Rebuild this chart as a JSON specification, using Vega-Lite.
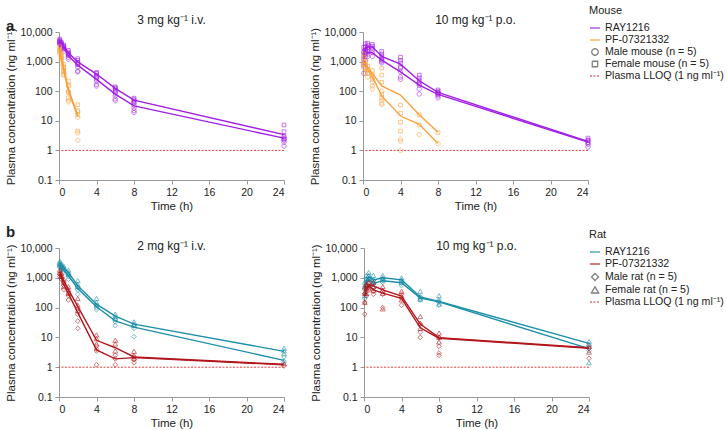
{
  "$schema": "https://vega.github.io/schema/vega-lite/v6.json",
  "config": {
    "font": "Liberation Sans",
    "view": {"stroke": null},
    "axis": {"domainColor": "#999", "tickColor": "#999", "labelColor": "#222", "titleColor": "#222", "labelFontSize": 10.5, "titleFontSize": 11.5, "titleFontWeight": "normal", "grid": false, "tickSize": 4, "labelPadding": 3, "titlePadding": 3},
    "title": {"fontSize": 12, "fontWeight": "normal", "offset": 0, "color": "#222"},
    "legend": {"labelFontSize": 10.6, "titleFontSize": 11, "titleFontWeight": "normal", "symbolSize": 100, "symbolStrokeWidth": 1.3, "rowPadding": 0, "padding": 0, "titlePadding": 6, "labelOffset": 4, "labelColor": "#222", "titleColor": "#222"},
    "concat": {"spacing": 21}
  },
  "datasets": {
    "mm": [
      {"d":"i","c":"R","s":"F","t":0.083,"v":5000},{"d":"i","c":"R","s":"F","t":0.25,"v":4000},{"d":"i","c":"R","s":"F","t":0.5,"v":3300},{"d":"i","c":"R","s":"F","t":1,"v":2000},{"d":"i","c":"R","s":"F","t":2,"v":980},{"d":"i","c":"R","s":"F","t":4,"v":380},{"d":"i","c":"R","s":"F","t":6,"v":125},{"d":"i","c":"R","s":"F","t":8,"v":50},{"d":"i","c":"R","s":"F","t":24,"v":3.4},
      {"d":"i","c":"R","s":"M","t":0.083,"v":4300},{"d":"i","c":"R","s":"M","t":0.25,"v":3600},{"d":"i","c":"R","s":"M","t":0.5,"v":2900},{"d":"i","c":"R","s":"M","t":1,"v":1600},{"d":"i","c":"R","s":"M","t":2,"v":760},{"d":"i","c":"R","s":"M","t":4,"v":250},{"d":"i","c":"R","s":"M","t":6,"v":80},{"d":"i","c":"R","s":"M","t":8,"v":32},{"d":"i","c":"R","s":"M","t":24,"v":2.6},
      {"d":"i","c":"P","s":"F","t":0.083,"v":2600},{"d":"i","c":"P","s":"F","t":0.25,"v":1500},{"d":"i","c":"P","s":"F","t":0.5,"v":650},{"d":"i","c":"P","s":"F","t":1,"v":120},{"d":"i","c":"P","s":"F","t":2,"v":15},
      {"d":"i","c":"P","s":"M","t":0.083,"v":2200},{"d":"i","c":"P","s":"M","t":0.25,"v":1200},{"d":"i","c":"P","s":"M","t":0.5,"v":500},{"d":"i","c":"P","s":"M","t":1,"v":100},{"d":"i","c":"P","s":"M","t":2,"v":14},
      {"d":"o","c":"R","s":"F","t":0.083,"v":1800},{"d":"o","c":"R","s":"F","t":0.25,"v":2800},{"d":"o","c":"R","s":"F","t":0.5,"v":3100},{"d":"o","c":"R","s":"F","t":1,"v":3200},{"d":"o","c":"R","s":"F","t":2,"v":1500},{"d":"o","c":"R","s":"F","t":4,"v":820},{"d":"o","c":"R","s":"F","t":6,"v":225},{"d":"o","c":"R","s":"F","t":8,"v":91},{"d":"o","c":"R","s":"F","t":24,"v":2.0},
      {"d":"o","c":"R","s":"M","t":0.083,"v":1300},{"d":"o","c":"R","s":"M","t":0.25,"v":1900},{"d":"o","c":"R","s":"M","t":0.5,"v":2000},{"d":"o","c":"R","s":"M","t":1,"v":2000},{"d":"o","c":"R","s":"M","t":2,"v":1120},{"d":"o","c":"R","s":"M","t":4,"v":450},{"d":"o","c":"R","s":"M","t":6,"v":160},{"d":"o","c":"R","s":"M","t":8,"v":78},{"d":"o","c":"R","s":"M","t":24,"v":1.9},
      {"d":"o","c":"P","s":"F","t":0.083,"v":1100},{"d":"o","c":"P","s":"F","t":0.25,"v":900},{"d":"o","c":"P","s":"F","t":0.5,"v":650},{"d":"o","c":"P","s":"F","t":1,"v":400},{"d":"o","c":"P","s":"F","t":2,"v":150},{"d":"o","c":"P","s":"F","t":4,"v":74},{"d":"o","c":"P","s":"F","t":6,"v":16},{"d":"o","c":"P","s":"F","t":8,"v":4.1},
      {"d":"o","c":"P","s":"M","t":0.083,"v":1000},{"d":"o","c":"P","s":"M","t":0.25,"v":800},{"d":"o","c":"P","s":"M","t":0.5,"v":550},{"d":"o","c":"P","s":"M","t":1,"v":310},{"d":"o","c":"P","s":"M","t":2,"v":69},{"d":"o","c":"P","s":"M","t":4,"v":14.5},{"d":"o","c":"P","s":"M","t":6,"v":7.6},{"d":"o","c":"P","s":"M","t":8,"v":1.7}
    ],
    "mi": [
      {"d":"i","c":"R","s":"F","t":0.083,"v":5800},{"d":"i","c":"R","s":"F","t":0.083,"v":5200},{"d":"i","c":"R","s":"F","t":0.083,"v":4900},{"d":"i","c":"R","s":"F","t":0.083,"v":4600},
      {"d":"i","c":"R","s":"F","t":0.25,"v":4500},{"d":"i","c":"R","s":"F","t":0.25,"v":4100},{"d":"i","c":"R","s":"F","t":0.25,"v":3800},{"d":"i","c":"R","s":"F","t":0.25,"v":3500},
      {"d":"i","c":"R","s":"F","t":0.5,"v":3600},{"d":"i","c":"R","s":"F","t":0.5,"v":3300},{"d":"i","c":"R","s":"F","t":0.5,"v":3000},{"d":"i","c":"R","s":"F","t":0.5,"v":2800},
      {"d":"i","c":"R","s":"F","t":1,"v":2400},{"d":"i","c":"R","s":"F","t":1,"v":2100},{"d":"i","c":"R","s":"F","t":1,"v":1900},{"d":"i","c":"R","s":"F","t":1,"v":1700},
      {"d":"i","c":"R","s":"F","t":2,"v":1250},{"d":"i","c":"R","s":"F","t":2,"v":1100},{"d":"i","c":"R","s":"F","t":2,"v":950},{"d":"i","c":"R","s":"F","t":2,"v":800},
      {"d":"i","c":"R","s":"F","t":4,"v":430},{"d":"i","c":"R","s":"F","t":4,"v":400},{"d":"i","c":"R","s":"F","t":4,"v":350},{"d":"i","c":"R","s":"F","t":4,"v":300},
      {"d":"i","c":"R","s":"F","t":6,"v":140},{"d":"i","c":"R","s":"F","t":6,"v":130},{"d":"i","c":"R","s":"F","t":6,"v":120},{"d":"i","c":"R","s":"F","t":6,"v":105},
      {"d":"i","c":"R","s":"F","t":8,"v":58},{"d":"i","c":"R","s":"F","t":8,"v":52},{"d":"i","c":"R","s":"F","t":8,"v":47},{"d":"i","c":"R","s":"F","t":8,"v":42},
      {"d":"i","c":"R","s":"F","t":24,"v":7.2},{"d":"i","c":"R","s":"F","t":24,"v":4.3},{"d":"i","c":"R","s":"F","t":24,"v":3.0},{"d":"i","c":"R","s":"F","t":24,"v":2.4},
      {"d":"i","c":"R","s":"M","t":0.083,"v":4600},{"d":"i","c":"R","s":"M","t":0.083,"v":4300},{"d":"i","c":"R","s":"M","t":0.083,"v":4000},{"d":"i","c":"R","s":"M","t":0.083,"v":3800},
      {"d":"i","c":"R","s":"M","t":0.25,"v":3900},{"d":"i","c":"R","s":"M","t":0.25,"v":3600},{"d":"i","c":"R","s":"M","t":0.25,"v":3300},{"d":"i","c":"R","s":"M","t":0.25,"v":3000},
      {"d":"i","c":"R","s":"M","t":0.5,"v":3200},{"d":"i","c":"R","s":"M","t":0.5,"v":2900},{"d":"i","c":"R","s":"M","t":0.5,"v":2600},{"d":"i","c":"R","s":"M","t":0.5,"v":2200},
      {"d":"i","c":"R","s":"M","t":1,"v":1800},{"d":"i","c":"R","s":"M","t":1,"v":1600},{"d":"i","c":"R","s":"M","t":1,"v":1400},{"d":"i","c":"R","s":"M","t":1,"v":1200},
      {"d":"i","c":"R","s":"M","t":2,"v":900},{"d":"i","c":"R","s":"M","t":2,"v":800},{"d":"i","c":"R","s":"M","t":2,"v":650},{"d":"i","c":"R","s":"M","t":2,"v":480},{"d":"i","c":"R","s":"M","t":2,"v":450},
      {"d":"i","c":"R","s":"M","t":4,"v":300},{"d":"i","c":"R","s":"M","t":4,"v":260},{"d":"i","c":"R","s":"M","t":4,"v":220},{"d":"i","c":"R","s":"M","t":4,"v":170},{"d":"i","c":"R","s":"M","t":4,"v":150},
      {"d":"i","c":"R","s":"M","t":6,"v":95},{"d":"i","c":"R","s":"M","t":6,"v":85},{"d":"i","c":"R","s":"M","t":6,"v":70},{"d":"i","c":"R","s":"M","t":6,"v":55},{"d":"i","c":"R","s":"M","t":6,"v":48},
      {"d":"i","c":"R","s":"M","t":8,"v":40},{"d":"i","c":"R","s":"M","t":8,"v":33},{"d":"i","c":"R","s":"M","t":8,"v":27},{"d":"i","c":"R","s":"M","t":8,"v":22},{"d":"i","c":"R","s":"M","t":8,"v":19},
      {"d":"i","c":"R","s":"M","t":24,"v":2.8},{"d":"i","c":"R","s":"M","t":24,"v":2.5},{"d":"i","c":"R","s":"M","t":24,"v":2.2},{"d":"i","c":"R","s":"M","t":24,"v":1.9},{"d":"i","c":"R","s":"M","t":24,"v":1.4},
      {"d":"i","c":"P","s":"F","t":0.083,"v":3200},{"d":"i","c":"P","s":"F","t":0.083,"v":2700},{"d":"i","c":"P","s":"F","t":0.083,"v":2400},
      {"d":"i","c":"P","s":"F","t":0.25,"v":1900},{"d":"i","c":"P","s":"F","t":0.25,"v":1500},{"d":"i","c":"P","s":"F","t":0.25,"v":1300},
      {"d":"i","c":"P","s":"F","t":0.5,"v":800},{"d":"i","c":"P","s":"F","t":0.5,"v":650},{"d":"i","c":"P","s":"F","t":0.5,"v":500},{"d":"i","c":"P","s":"F","t":0.5,"v":350},
      {"d":"i","c":"P","s":"F","t":1,"v":220},{"d":"i","c":"P","s":"F","t":1,"v":160},{"d":"i","c":"P","s":"F","t":1,"v":90},{"d":"i","c":"P","s":"F","t":1,"v":60},
      {"d":"i","c":"P","s":"F","t":2,"v":35},{"d":"i","c":"P","s":"F","t":2,"v":22},{"d":"i","c":"P","s":"F","t":2,"v":16},{"d":"i","c":"P","s":"F","t":2,"v":4.5},
      {"d":"i","c":"P","s":"M","t":0.083,"v":2500},{"d":"i","c":"P","s":"M","t":0.083,"v":2100},{"d":"i","c":"P","s":"M","t":0.083,"v":1800},
      {"d":"i","c":"P","s":"M","t":0.25,"v":1400},{"d":"i","c":"P","s":"M","t":0.25,"v":1100},{"d":"i","c":"P","s":"M","t":0.25,"v":900},
      {"d":"i","c":"P","s":"M","t":0.5,"v":600},{"d":"i","c":"P","s":"M","t":0.5,"v":450},{"d":"i","c":"P","s":"M","t":0.5,"v":380},
      {"d":"i","c":"P","s":"M","t":1,"v":150},{"d":"i","c":"P","s":"M","t":1,"v":100},{"d":"i","c":"P","s":"M","t":1,"v":50},{"d":"i","c":"P","s":"M","t":1,"v":44},
      {"d":"i","c":"P","s":"M","t":2,"v":20},{"d":"i","c":"P","s":"M","t":2,"v":13},{"d":"i","c":"P","s":"M","t":2,"v":3.9},{"d":"i","c":"P","s":"M","t":2,"v":2.2},
      {"d":"o","c":"R","s":"F","t":0.083,"v":3000},{"d":"o","c":"R","s":"F","t":0.083,"v":2200},{"d":"o","c":"R","s":"F","t":0.083,"v":1500},{"d":"o","c":"R","s":"F","t":0.083,"v":900},
      {"d":"o","c":"R","s":"F","t":0.25,"v":4000},{"d":"o","c":"R","s":"F","t":0.25,"v":3200},{"d":"o","c":"R","s":"F","t":0.25,"v":2500},{"d":"o","c":"R","s":"F","t":0.25,"v":1800},
      {"d":"o","c":"R","s":"F","t":0.5,"v":4200},{"d":"o","c":"R","s":"F","t":0.5,"v":3600},{"d":"o","c":"R","s":"F","t":0.5,"v":3000},{"d":"o","c":"R","s":"F","t":0.5,"v":2500},
      {"d":"o","c":"R","s":"F","t":1,"v":3800},{"d":"o","c":"R","s":"F","t":1,"v":3300},{"d":"o","c":"R","s":"F","t":1,"v":2900},
      {"d":"o","c":"R","s":"F","t":2,"v":2200},{"d":"o","c":"R","s":"F","t":2,"v":1800},{"d":"o","c":"R","s":"F","t":2,"v":1500},{"d":"o","c":"R","s":"F","t":2,"v":1200},
      {"d":"o","c":"R","s":"F","t":4,"v":1400},{"d":"o","c":"R","s":"F","t":4,"v":1100},{"d":"o","c":"R","s":"F","t":4,"v":900},{"d":"o","c":"R","s":"F","t":4,"v":650},
      {"d":"o","c":"R","s":"F","t":6,"v":350},{"d":"o","c":"R","s":"F","t":6,"v":280},{"d":"o","c":"R","s":"F","t":6,"v":230},{"d":"o","c":"R","s":"F","t":6,"v":180},
      {"d":"o","c":"R","s":"F","t":8,"v":110},{"d":"o","c":"R","s":"F","t":8,"v":100},{"d":"o","c":"R","s":"F","t":8,"v":90},{"d":"o","c":"R","s":"F","t":8,"v":80},
      {"d":"o","c":"R","s":"F","t":24,"v":2.6},{"d":"o","c":"R","s":"F","t":24,"v":2.2},{"d":"o","c":"R","s":"F","t":24,"v":1.8},
      {"d":"o","c":"R","s":"M","t":0.083,"v":2000},{"d":"o","c":"R","s":"M","t":0.083,"v":1200},{"d":"o","c":"R","s":"M","t":0.083,"v":700},{"d":"o","c":"R","s":"M","t":0.083,"v":400},
      {"d":"o","c":"R","s":"M","t":0.25,"v":2500},{"d":"o","c":"R","s":"M","t":0.25,"v":2000},{"d":"o","c":"R","s":"M","t":0.25,"v":1500},{"d":"o","c":"R","s":"M","t":0.25,"v":1100},
      {"d":"o","c":"R","s":"M","t":0.5,"v":2800},{"d":"o","c":"R","s":"M","t":0.5,"v":2200},{"d":"o","c":"R","s":"M","t":0.5,"v":1800},{"d":"o","c":"R","s":"M","t":0.5,"v":1500},
      {"d":"o","c":"R","s":"M","t":1,"v":2500},{"d":"o","c":"R","s":"M","t":1,"v":2000},{"d":"o","c":"R","s":"M","t":1,"v":1500},
      {"d":"o","c":"R","s":"M","t":2,"v":1300},{"d":"o","c":"R","s":"M","t":2,"v":1100},{"d":"o","c":"R","s":"M","t":2,"v":1000},{"d":"o","c":"R","s":"M","t":2,"v":900},
      {"d":"o","c":"R","s":"M","t":4,"v":600},{"d":"o","c":"R","s":"M","t":4,"v":450},{"d":"o","c":"R","s":"M","t":4,"v":300},{"d":"o","c":"R","s":"M","t":4,"v":250},
      {"d":"o","c":"R","s":"M","t":6,"v":200},{"d":"o","c":"R","s":"M","t":6,"v":160},{"d":"o","c":"R","s":"M","t":6,"v":120},{"d":"o","c":"R","s":"M","t":6,"v":80},
      {"d":"o","c":"R","s":"M","t":8,"v":90},{"d":"o","c":"R","s":"M","t":8,"v":80},{"d":"o","c":"R","s":"M","t":8,"v":70},{"d":"o","c":"R","s":"M","t":8,"v":60},
      {"d":"o","c":"R","s":"M","t":24,"v":2.2},{"d":"o","c":"R","s":"M","t":24,"v":1.9},{"d":"o","c":"R","s":"M","t":24,"v":1.6},{"d":"o","c":"R","s":"M","t":24,"v":1.3},
      {"d":"o","c":"P","s":"F","t":0.083,"v":1800},{"d":"o","c":"P","s":"F","t":0.083,"v":1200},{"d":"o","c":"P","s":"F","t":0.083,"v":800},
      {"d":"o","c":"P","s":"F","t":0.25,"v":1000},{"d":"o","c":"P","s":"F","t":0.25,"v":800},{"d":"o","c":"P","s":"F","t":0.25,"v":600},
      {"d":"o","c":"P","s":"F","t":0.5,"v":700},{"d":"o","c":"P","s":"F","t":0.5,"v":550},{"d":"o","c":"P","s":"F","t":0.5,"v":400},
      {"d":"o","c":"P","s":"F","t":1,"v":500},{"d":"o","c":"P","s":"F","t":1,"v":350},{"d":"o","c":"P","s":"F","t":1,"v":250},
      {"d":"o","c":"P","s":"F","t":2,"v":600},{"d":"o","c":"P","s":"F","t":2,"v":350},{"d":"o","c":"P","s":"F","t":2,"v":200},{"d":"o","c":"P","s":"F","t":2,"v":80},{"d":"o","c":"P","s":"F","t":2,"v":60},
      {"d":"o","c":"P","s":"F","t":4,"v":34},{"d":"o","c":"P","s":"F","t":4,"v":18},{"d":"o","c":"P","s":"F","t":4,"v":9},{"d":"o","c":"P","s":"F","t":4,"v":4.5},
      {"d":"o","c":"P","s":"F","t":6,"v":16},{"d":"o","c":"P","s":"F","t":6,"v":7.3},{"d":"o","c":"P","s":"F","t":8,"v":4},
      {"d":"o","c":"P","s":"M","t":0.083,"v":1400},{"d":"o","c":"P","s":"M","t":0.083,"v":900},{"d":"o","c":"P","s":"M","t":0.083,"v":600},
      {"d":"o","c":"P","s":"M","t":0.25,"v":800},{"d":"o","c":"P","s":"M","t":0.25,"v":600},{"d":"o","c":"P","s":"M","t":0.25,"v":400},
      {"d":"o","c":"P","s":"M","t":0.5,"v":500},{"d":"o","c":"P","s":"M","t":0.5,"v":400},{"d":"o","c":"P","s":"M","t":0.5,"v":300},
      {"d":"o","c":"P","s":"M","t":1,"v":300},{"d":"o","c":"P","s":"M","t":1,"v":200},{"d":"o","c":"P","s":"M","t":1,"v":150},{"d":"o","c":"P","s":"M","t":1,"v":120},
      {"d":"o","c":"P","s":"M","t":2,"v":100},{"d":"o","c":"P","s":"M","t":2,"v":50},{"d":"o","c":"P","s":"M","t":2,"v":40},{"d":"o","c":"P","s":"M","t":2,"v":35},
      {"d":"o","c":"P","s":"M","t":4,"v":2.4},{"d":"o","c":"P","s":"M","t":4,"v":2},{"d":"o","c":"P","s":"M","t":4,"v":1},
      {"d":"o","c":"P","s":"M","t":6,"v":3.4},{"d":"o","c":"P","s":"M","t":8,"v":1.7}
    ],
    "rm": [
      {"d":"i","c":"R","s":"F","t":0.083,"v":3000},{"d":"i","c":"R","s":"F","t":0.25,"v":2600},{"d":"i","c":"R","s":"F","t":0.5,"v":2200},{"d":"i","c":"R","s":"F","t":1,"v":1500},{"d":"i","c":"R","s":"F","t":2,"v":540},{"d":"i","c":"R","s":"F","t":4,"v":130},{"d":"i","c":"R","s":"F","t":6,"v":52},{"d":"i","c":"R","s":"F","t":8,"v":28},{"d":"i","c":"R","s":"F","t":24,"v":3.4},
      {"d":"i","c":"R","s":"M","t":0.083,"v":2500},{"d":"i","c":"R","s":"M","t":0.25,"v":2100},{"d":"i","c":"R","s":"M","t":0.5,"v":1800},{"d":"i","c":"R","s":"M","t":1,"v":1170},{"d":"i","c":"R","s":"M","t":2,"v":440},{"d":"i","c":"R","s":"M","t":4,"v":107},{"d":"i","c":"R","s":"M","t":6,"v":36},{"d":"i","c":"R","s":"M","t":8,"v":22},{"d":"i","c":"R","s":"M","t":24,"v":1.7},
      {"d":"i","c":"P","s":"F","t":0.083,"v":1600},{"d":"i","c":"P","s":"F","t":0.25,"v":1200},{"d":"i","c":"P","s":"F","t":0.5,"v":800},{"d":"i","c":"P","s":"F","t":1,"v":400},{"d":"i","c":"P","s":"F","t":2,"v":110},{"d":"i","c":"P","s":"F","t":4,"v":8},{"d":"i","c":"P","s":"F","t":6,"v":4.5},{"d":"i","c":"P","s":"F","t":8,"v":2.2},{"d":"i","c":"P","s":"F","t":24,"v":1.25},
      {"d":"i","c":"P","s":"M","t":0.083,"v":1300},{"d":"i","c":"P","s":"M","t":0.25,"v":1000},{"d":"i","c":"P","s":"M","t":0.5,"v":600},{"d":"i","c":"P","s":"M","t":1,"v":300},{"d":"i","c":"P","s":"M","t":2,"v":68},{"d":"i","c":"P","s":"M","t":4,"v":3.8},{"d":"i","c":"P","s":"M","t":6,"v":1.9},{"d":"i","c":"P","s":"M","t":8,"v":2.1},{"d":"i","c":"P","s":"M","t":24,"v":1.2},
      {"d":"o","c":"R","s":"F","t":0.083,"v":450},{"d":"o","c":"R","s":"F","t":0.25,"v":850},{"d":"o","c":"R","s":"F","t":0.5,"v":1100},{"d":"o","c":"R","s":"F","t":1,"v":850},{"d":"o","c":"R","s":"F","t":2,"v":1000},{"d":"o","c":"R","s":"F","t":4,"v":850},{"d":"o","c":"R","s":"F","t":6,"v":230},{"d":"o","c":"R","s":"F","t":8,"v":160},{"d":"o","c":"R","s":"F","t":24,"v":6.3},
      {"d":"o","c":"R","s":"M","t":0.083,"v":380},{"d":"o","c":"R","s":"M","t":0.25,"v":700},{"d":"o","c":"R","s":"M","t":0.5,"v":900},{"d":"o","c":"R","s":"M","t":1,"v":650},{"d":"o","c":"R","s":"M","t":2,"v":800},{"d":"o","c":"R","s":"M","t":4,"v":680},{"d":"o","c":"R","s":"M","t":6,"v":210},{"d":"o","c":"R","s":"M","t":8,"v":155},{"d":"o","c":"R","s":"M","t":24,"v":4.2},
      {"d":"o","c":"P","s":"F","t":0.083,"v":325},{"d":"o","c":"P","s":"F","t":0.25,"v":450},{"d":"o","c":"P","s":"F","t":0.5,"v":575},{"d":"o","c":"P","s":"F","t":1,"v":540},{"d":"o","c":"P","s":"F","t":2,"v":395},{"d":"o","c":"P","s":"F","t":4,"v":245},{"d":"o","c":"P","s":"F","t":6,"v":28},{"d":"o","c":"P","s":"F","t":8,"v":9.8},{"d":"o","c":"P","s":"F","t":24,"v":4.5},
      {"d":"o","c":"P","s":"M","t":0.083,"v":245},{"d":"o","c":"P","s":"M","t":0.25,"v":400},{"d":"o","c":"P","s":"M","t":0.5,"v":540},{"d":"o","c":"P","s":"M","t":1,"v":395},{"d":"o","c":"P","s":"M","t":2,"v":305},{"d":"o","c":"P","s":"M","t":4,"v":205},{"d":"o","c":"P","s":"M","t":6,"v":21},{"d":"o","c":"P","s":"M","t":8,"v":9.4},{"d":"o","c":"P","s":"M","t":24,"v":4.3}
    ],
    "ri": [
      {"d":"i","c":"R","s":"F","t":0.083,"v":3600},{"d":"i","c":"R","s":"F","t":0.083,"v":3200},{"d":"i","c":"R","s":"F","t":0.083,"v":2800},
      {"d":"i","c":"R","s":"F","t":0.25,"v":3000},{"d":"i","c":"R","s":"F","t":0.25,"v":2600},{"d":"i","c":"R","s":"F","t":0.25,"v":2300},
      {"d":"i","c":"R","s":"F","t":0.5,"v":2500},{"d":"i","c":"R","s":"F","t":0.5,"v":2200},{"d":"i","c":"R","s":"F","t":0.5,"v":2000},
      {"d":"i","c":"R","s":"F","t":1,"v":1800},{"d":"i","c":"R","s":"F","t":1,"v":1500},{"d":"i","c":"R","s":"F","t":1,"v":1300},
      {"d":"i","c":"R","s":"F","t":2,"v":800},{"d":"i","c":"R","s":"F","t":2,"v":600},{"d":"i","c":"R","s":"F","t":2,"v":500},
      {"d":"i","c":"R","s":"F","t":4,"v":200},{"d":"i","c":"R","s":"F","t":4,"v":150},{"d":"i","c":"R","s":"F","t":4,"v":120},
      {"d":"i","c":"R","s":"F","t":6,"v":60},{"d":"i","c":"R","s":"F","t":6,"v":50},{"d":"i","c":"R","s":"F","t":6,"v":42},
      {"d":"i","c":"R","s":"F","t":8,"v":33},{"d":"i","c":"R","s":"F","t":8,"v":28},{"d":"i","c":"R","s":"F","t":8,"v":25},
      {"d":"i","c":"R","s":"F","t":24,"v":4.3},{"d":"i","c":"R","s":"F","t":24,"v":3.5},{"d":"i","c":"R","s":"F","t":24,"v":2.8},
      {"d":"i","c":"R","s":"M","t":0.083,"v":2800},{"d":"i","c":"R","s":"M","t":0.083,"v":2500},{"d":"i","c":"R","s":"M","t":0.083,"v":2200},
      {"d":"i","c":"R","s":"M","t":0.25,"v":2400},{"d":"i","c":"R","s":"M","t":0.25,"v":2100},{"d":"i","c":"R","s":"M","t":0.25,"v":1900},
      {"d":"i","c":"R","s":"M","t":0.5,"v":2000},{"d":"i","c":"R","s":"M","t":0.5,"v":1700},{"d":"i","c":"R","s":"M","t":0.5,"v":1500},
      {"d":"i","c":"R","s":"M","t":1,"v":1300},{"d":"i","c":"R","s":"M","t":1,"v":1100},{"d":"i","c":"R","s":"M","t":1,"v":900},
      {"d":"i","c":"R","s":"M","t":2,"v":480},{"d":"i","c":"R","s":"M","t":2,"v":400},{"d":"i","c":"R","s":"M","t":2,"v":280},
      {"d":"i","c":"R","s":"M","t":4,"v":120},{"d":"i","c":"R","s":"M","t":4,"v":100},{"d":"i","c":"R","s":"M","t":4,"v":85},
      {"d":"i","c":"R","s":"M","t":6,"v":40},{"d":"i","c":"R","s":"M","t":6,"v":33},{"d":"i","c":"R","s":"M","t":6,"v":25},
      {"d":"i","c":"R","s":"M","t":8,"v":24},{"d":"i","c":"R","s":"M","t":8,"v":20},{"d":"i","c":"R","s":"M","t":8,"v":10.5},
      {"d":"i","c":"R","s":"M","t":24,"v":2.2},{"d":"i","c":"R","s":"M","t":24,"v":1.6},{"d":"i","c":"R","s":"M","t":24,"v":1.4},
      {"d":"i","c":"P","s":"F","t":0.083,"v":1800},{"d":"i","c":"P","s":"F","t":0.083,"v":1500},
      {"d":"i","c":"P","s":"F","t":0.25,"v":1400},{"d":"i","c":"P","s":"F","t":0.25,"v":1100},
      {"d":"i","c":"P","s":"F","t":0.5,"v":900},{"d":"i","c":"P","s":"F","t":0.5,"v":700},{"d":"i","c":"P","s":"F","t":0.5,"v":500},
      {"d":"i","c":"P","s":"F","t":1,"v":500},{"d":"i","c":"P","s":"F","t":1,"v":400},{"d":"i","c":"P","s":"F","t":1,"v":300},
      {"d":"i","c":"P","s":"F","t":2,"v":200},{"d":"i","c":"P","s":"F","t":2,"v":120},{"d":"i","c":"P","s":"F","t":2,"v":80},
      {"d":"i","c":"P","s":"F","t":4,"v":12},{"d":"i","c":"P","s":"F","t":4,"v":9},{"d":"i","c":"P","s":"F","t":4,"v":6},
      {"d":"i","c":"P","s":"F","t":6,"v":8},{"d":"i","c":"P","s":"F","t":6,"v":6},{"d":"i","c":"P","s":"F","t":6,"v":3.5},
      {"d":"i","c":"P","s":"F","t":8,"v":3.4},{"d":"i","c":"P","s":"F","t":8,"v":2.5},{"d":"i","c":"P","s":"F","t":8,"v":2},
      {"d":"i","c":"P","s":"F","t":24,"v":1.3},
      {"d":"i","c":"P","s":"M","t":0.083,"v":1300},{"d":"i","c":"P","s":"M","t":0.083,"v":1100},
      {"d":"i","c":"P","s":"M","t":0.25,"v":1100},{"d":"i","c":"P","s":"M","t":0.25,"v":900},
      {"d":"i","c":"P","s":"M","t":0.5,"v":700},{"d":"i","c":"P","s":"M","t":0.5,"v":550},{"d":"i","c":"P","s":"M","t":0.5,"v":400},
      {"d":"i","c":"P","s":"M","t":1,"v":300},{"d":"i","c":"P","s":"M","t":1,"v":250},{"d":"i","c":"P","s":"M","t":1,"v":180},
      {"d":"i","c":"P","s":"M","t":2,"v":90},{"d":"i","c":"P","s":"M","t":2,"v":60},{"d":"i","c":"P","s":"M","t":2,"v":35},{"d":"i","c":"P","s":"M","t":2,"v":20},
      {"d":"i","c":"P","s":"M","t":4,"v":5},{"d":"i","c":"P","s":"M","t":4,"v":4},{"d":"i","c":"P","s":"M","t":4,"v":3.5},{"d":"i","c":"P","s":"M","t":4,"v":1.2},
      {"d":"i","c":"P","s":"M","t":6,"v":2.5},{"d":"i","c":"P","s":"M","t":6,"v":1.9},{"d":"i","c":"P","s":"M","t":6,"v":1.2},
      {"d":"i","c":"P","s":"M","t":8,"v":2.2},{"d":"i","c":"P","s":"M","t":8,"v":1.8},{"d":"i","c":"P","s":"M","t":8,"v":1.4},
      {"d":"i","c":"P","s":"M","t":24,"v":1.1},
      {"d":"o","c":"R","s":"F","t":0.083,"v":700},{"d":"o","c":"R","s":"F","t":0.083,"v":450},{"d":"o","c":"R","s":"F","t":0.083,"v":250},
      {"d":"o","c":"R","s":"F","t":0.25,"v":1200},{"d":"o","c":"R","s":"F","t":0.25,"v":900},{"d":"o","c":"R","s":"F","t":0.25,"v":600},
      {"d":"o","c":"R","s":"F","t":0.5,"v":1500},{"d":"o","c":"R","s":"F","t":0.5,"v":1200},{"d":"o","c":"R","s":"F","t":0.5,"v":900},
      {"d":"o","c":"R","s":"F","t":1,"v":1200},{"d":"o","c":"R","s":"F","t":1,"v":900},{"d":"o","c":"R","s":"F","t":1,"v":700},
      {"d":"o","c":"R","s":"F","t":2,"v":1200},{"d":"o","c":"R","s":"F","t":2,"v":1000},{"d":"o","c":"R","s":"F","t":2,"v":850},
      {"d":"o","c":"R","s":"F","t":4,"v":1000},{"d":"o","c":"R","s":"F","t":4,"v":850},{"d":"o","c":"R","s":"F","t":4,"v":700},
      {"d":"o","c":"R","s":"F","t":6,"v":350},{"d":"o","c":"R","s":"F","t":6,"v":230},{"d":"o","c":"R","s":"F","t":6,"v":190},
      {"d":"o","c":"R","s":"F","t":8,"v":250},{"d":"o","c":"R","s":"F","t":8,"v":170},{"d":"o","c":"R","s":"F","t":8,"v":130},
      {"d":"o","c":"R","s":"F","t":24,"v":7.2},{"d":"o","c":"R","s":"F","t":24,"v":5.8},{"d":"o","c":"R","s":"F","t":24,"v":1.4},
      {"d":"o","c":"R","s":"M","t":0.083,"v":500},{"d":"o","c":"R","s":"M","t":0.083,"v":300},{"d":"o","c":"R","s":"M","t":0.083,"v":200},
      {"d":"o","c":"R","s":"M","t":0.25,"v":900},{"d":"o","c":"R","s":"M","t":0.25,"v":700},{"d":"o","c":"R","s":"M","t":0.25,"v":500},
      {"d":"o","c":"R","s":"M","t":0.5,"v":1100},{"d":"o","c":"R","s":"M","t":0.5,"v":900},{"d":"o","c":"R","s":"M","t":0.5,"v":700},
      {"d":"o","c":"R","s":"M","t":1,"v":800},{"d":"o","c":"R","s":"M","t":1,"v":650},{"d":"o","c":"R","s":"M","t":1,"v":500},
      {"d":"o","c":"R","s":"M","t":2,"v":900},{"d":"o","c":"R","s":"M","t":2,"v":800},{"d":"o","c":"R","s":"M","t":2,"v":700},
      {"d":"o","c":"R","s":"M","t":4,"v":800},{"d":"o","c":"R","s":"M","t":4,"v":650},{"d":"o","c":"R","s":"M","t":4,"v":550},
      {"d":"o","c":"R","s":"M","t":6,"v":230},{"d":"o","c":"R","s":"M","t":6,"v":200},{"d":"o","c":"R","s":"M","t":6,"v":180},
      {"d":"o","c":"R","s":"M","t":8,"v":180},{"d":"o","c":"R","s":"M","t":8,"v":150},{"d":"o","c":"R","s":"M","t":8,"v":120},
      {"d":"o","c":"R","s":"M","t":24,"v":5.5},{"d":"o","c":"R","s":"M","t":24,"v":4.2},{"d":"o","c":"R","s":"M","t":24,"v":3.6},
      {"d":"o","c":"P","s":"F","t":0.083,"v":500},{"d":"o","c":"P","s":"F","t":0.083,"v":300},{"d":"o","c":"P","s":"F","t":0.083,"v":150},
      {"d":"o","c":"P","s":"F","t":0.25,"v":600},{"d":"o","c":"P","s":"F","t":0.25,"v":450},{"d":"o","c":"P","s":"F","t":0.25,"v":300},
      {"d":"o","c":"P","s":"F","t":0.5,"v":700},{"d":"o","c":"P","s":"F","t":0.5,"v":550},{"d":"o","c":"P","s":"F","t":0.5,"v":450},
      {"d":"o","c":"P","s":"F","t":1,"v":700},{"d":"o","c":"P","s":"F","t":1,"v":500},{"d":"o","c":"P","s":"F","t":1,"v":380},
      {"d":"o","c":"P","s":"F","t":2,"v":500},{"d":"o","c":"P","s":"F","t":2,"v":380},{"d":"o","c":"P","s":"F","t":2,"v":300},{"d":"o","c":"P","s":"F","t":2,"v":90},
      {"d":"o","c":"P","s":"F","t":4,"v":350},{"d":"o","c":"P","s":"F","t":4,"v":250},{"d":"o","c":"P","s":"F","t":4,"v":180},
      {"d":"o","c":"P","s":"F","t":6,"v":50},{"d":"o","c":"P","s":"F","t":6,"v":30},{"d":"o","c":"P","s":"F","t":6,"v":20},
      {"d":"o","c":"P","s":"F","t":8,"v":14},{"d":"o","c":"P","s":"F","t":8,"v":10},{"d":"o","c":"P","s":"F","t":8,"v":7},
      {"d":"o","c":"P","s":"F","t":24,"v":5},{"d":"o","c":"P","s":"F","t":24,"v":3.2},
      {"d":"o","c":"P","s":"M","t":0.083,"v":300},{"d":"o","c":"P","s":"M","t":0.083,"v":150},{"d":"o","c":"P","s":"M","t":0.083,"v":60},
      {"d":"o","c":"P","s":"M","t":0.25,"v":500},{"d":"o","c":"P","s":"M","t":0.25,"v":350},{"d":"o","c":"P","s":"M","t":0.25,"v":250},
      {"d":"o","c":"P","s":"M","t":0.5,"v":650},{"d":"o","c":"P","s":"M","t":0.5,"v":500},{"d":"o","c":"P","s":"M","t":0.5,"v":380},
      {"d":"o","c":"P","s":"M","t":1,"v":450},{"d":"o","c":"P","s":"M","t":1,"v":350},{"d":"o","c":"P","s":"M","t":1,"v":280},
      {"d":"o","c":"P","s":"M","t":2,"v":350},{"d":"o","c":"P","s":"M","t":2,"v":280},{"d":"o","c":"P","s":"M","t":2,"v":100},
      {"d":"o","c":"P","s":"M","t":4,"v":280},{"d":"o","c":"P","s":"M","t":4,"v":200},{"d":"o","c":"P","s":"M","t":4,"v":120},
      {"d":"o","c":"P","s":"M","t":6,"v":28},{"d":"o","c":"P","s":"M","t":6,"v":15},{"d":"o","c":"P","s":"M","t":6,"v":10},
      {"d":"o","c":"P","s":"M","t":8,"v":10},{"d":"o","c":"P","s":"M","t":8,"v":5},{"d":"o","c":"P","s":"M","t":8,"v":3},{"d":"o","c":"P","s":"M","t":8,"v":2.5},
      {"d":"o","c":"P","s":"M","t":24,"v":4.4},{"d":"o","c":"P","s":"M","t":24,"v":2.0}
    ]
  },
  "resolve": {"scale": {"color": "independent", "shape": "independent", "strokeDash": "independent"}},
  "spacing": 13,
  "vconcat": [
    {
      "title": {"text": "a", "anchor": "start", "fontSize": 15, "fontWeight": "bold", "offset": -29},
      "hconcat": [
        {
          "width": 225, "height": 148,
          "title": {"text": "3 mg kg⁻¹ i.v.", "offset": 0},
          "layer": [
            {"data": {"name": "mm"}, "transform": [{"filter": "datum.d == 'i'"}],
             "mark": {"type": "line", "strokeWidth": 1.4},
             "encoding": {
               "x": {"field": "t", "type": "quantitative", "scale": {"domain": [0, 24]}, "axis": {"values": [0, 4, 8, 12, 16, 20, 24], "labelOverlap": false}, "title": "Time (h)"},
               "y": {"field": "v", "type": "quantitative", "scale": {"type": "log", "domain": [0.1, 10000]}, "axis": {"values": [0.1, 1, 10, 100, 1000, 10000], "format": ",", "labelOverlap": false}, "title": "Plasma concentration (ng ml⁻¹)"},
               "color": {"field": "c", "type": "nominal", "scale": {"domain": ["R", "P", "M", "F", "L"], "range": ["#a21fe6", "#f8a23e", "#555555", "#555555", "#f03a3a"]},
                 "legend": {"title": "Mouse", "orient": "none", "legendX": 530, "legendY": -27, "labelExpr": "datum.label=='R'?'RAY1216':datum.label=='P'?'PF-07321332':datum.label=='M'?'Male mouse (n = 5)':datum.label=='F'?'Female mouse (n = 5)':'Plasma LLOQ (1 ng ml⁻¹)'"}},
               "detail": {"field": "s"}
             }},
            {"data": {"name": "mi"}, "transform": [{"filter": "datum.d == 'i'"}],
             "mark": {"type": "point", "filled": false, "size": 45, "strokeWidth": 0.8, "opacity": 0.75},
             "encoding": {
               "x": {"field": "t", "type": "quantitative", "axis": {"values": [0, 4, 8, 12, 16, 20, 24], "labelOverlap": false}},
               "y": {"field": "v", "type": "quantitative"},
               "color": {"field": "c", "type": "nominal"},
               "shape": {"field": "s", "type": "nominal", "scale": {"domain": ["R", "P", "M", "F", "L"], "range": ["stroke", "stroke", "M-0.65,0A0.65,0.65,0,1,0,0.65,0A0.65,0.65,0,1,0,-0.65,0Z", "M-0.55,-0.55H0.55V0.55H-0.55Z", "stroke"]}, "legend": {"title": "Mouse", "orient": "none", "legendX": 530, "legendY": -27}}
             }},
            {"data": {"values": [{}]},
             "mark": {"type": "rule", "strokeWidth": 1, "color": "#f03a3a"},
             "encoding": {
               "y": {"datum": 1},
               "strokeDash": {"datum": "L", "scale": {"domain": ["R", "P", "M", "F", "L"], "range": [[1, 0], [1, 0], [1, 0], [1, 0], [2, 1.5]]}, "legend": {"title": "Mouse", "orient": "none", "legendX": 530, "legendY": -27}}
             }}
          ]
        },
        {
          "width": 225, "height": 148,
          "title": {"text": "10 mg kg⁻¹ p.o.", "offset": 0},
          "layer": [
            {"data": {"name": "mm"}, "transform": [{"filter": "datum.d == 'o'"}],
             "mark": {"type": "line", "strokeWidth": 1.4},
             "encoding": {
               "x": {"field": "t", "type": "quantitative", "scale": {"domain": [0, 24]}, "axis": {"values": [0, 4, 8, 12, 16, 20, 24], "labelOverlap": false}, "title": "Time (h)"},
               "y": {"field": "v", "type": "quantitative", "scale": {"type": "log", "domain": [0.1, 10000]}, "axis": {"values": [0.1, 1, 10, 100, 1000, 10000], "format": ",", "labelOverlap": false}, "title": "Plasma concentration (ng ml⁻¹)"},
               "color": {"field": "c", "type": "nominal"},
               "detail": {"field": "s"}
             }},
            {"data": {"name": "mi"}, "transform": [{"filter": "datum.d == 'o'"}],
             "mark": {"type": "point", "filled": false, "size": 45, "strokeWidth": 0.8, "opacity": 0.75},
             "encoding": {
               "x": {"field": "t", "type": "quantitative", "axis": {"values": [0, 4, 8, 12, 16, 20, 24], "labelOverlap": false}},
               "y": {"field": "v", "type": "quantitative"},
               "color": {"field": "c", "type": "nominal"},
               "shape": {"field": "s", "type": "nominal"}
             }},
            {"data": {"values": [{}]},
             "mark": {"type": "rule", "strokeWidth": 1, "color": "#f03a3a"},
             "encoding": {
               "y": {"datum": 1},
               "strokeDash": {"datum": "L"}
             }}
          ]
        }
      ]
    },
    {
      "title": {"text": "b", "anchor": "start", "fontSize": 15, "fontWeight": "bold", "offset": -11},
      "hconcat": [
        {
          "width": 225, "height": 149,
          "title": {"text": "2 mg kg⁻¹ i.v.", "offset": -10},
          "layer": [
            {"data": {"name": "rm"}, "transform": [{"filter": "datum.d == 'i'"}],
             "mark": {"type": "line", "strokeWidth": 1.4},
             "encoding": {
               "x": {"field": "t", "type": "quantitative", "scale": {"domain": [0, 24]}, "axis": {"values": [0, 4, 8, 12, 16, 20, 24], "labelOverlap": false}, "title": "Time (h)"},
               "y": {"field": "v", "type": "quantitative", "scale": {"type": "log", "domain": [0.1, 10000]}, "axis": {"values": [0.1, 1, 10, 100, 1000, 10000], "format": ",", "labelOverlap": false}, "title": "Plasma concentration (ng ml⁻¹)"},
               "color": {"field": "c", "type": "nominal", "scale": {"domain": ["R", "P", "M", "F", "L"], "range": ["#1e8fa9", "#b3161c", "#555555", "#555555", "#f03a3a"]},
                 "legend": {"title": "Rat", "orient": "none", "legendX": 530, "legendY": -19, "labelExpr": "datum.label=='R'?'RAY1216':datum.label=='P'?'PF-07321332':datum.label=='M'?'Male rat (n = 5)':datum.label=='F'?'Female rat (n = 5)':'Plasma LLOQ (1 ng ml⁻¹)'"}},
               "detail": {"field": "s"}
             }},
            {"data": {"name": "ri"}, "transform": [{"filter": "datum.d == 'i'"}],
             "mark": {"type": "point", "filled": false, "size": 45, "strokeWidth": 0.8, "opacity": 0.75},
             "encoding": {
               "x": {"field": "t", "type": "quantitative", "axis": {"values": [0, 4, 8, 12, 16, 20, 24], "labelOverlap": false}},
               "y": {"field": "v", "type": "quantitative"},
               "color": {"field": "c", "type": "nominal"},
               "shape": {"field": "s", "type": "nominal", "scale": {"domain": ["R", "P", "M", "F", "L"], "range": ["stroke", "stroke", "M0,-0.7L0.7,0L0,0.7L-0.7,0Z", "M0,-0.65L0.72,0.6L-0.72,0.6Z", "stroke"]}, "legend": {"title": "Rat", "orient": "none", "legendX": 530, "legendY": -19}}
             }},
            {"data": {"values": [{}]},
             "mark": {"type": "rule", "strokeWidth": 1, "color": "#f03a3a"},
             "encoding": {
               "y": {"datum": 1},
               "strokeDash": {"datum": "L", "scale": {"domain": ["R", "P", "M", "F", "L"], "range": [[1, 0], [1, 0], [1, 0], [1, 0], [2, 1.5]]}, "legend": {"title": "Rat", "orient": "none", "legendX": 530, "legendY": -19}}
             }}
          ]
        },
        {
          "width": 225, "height": 149,
          "title": {"text": "10 mg kg⁻¹ p.o.", "offset": -10},
          "layer": [
            {"data": {"name": "rm"}, "transform": [{"filter": "datum.d == 'o'"}],
             "mark": {"type": "line", "strokeWidth": 1.4},
             "encoding": {
               "x": {"field": "t", "type": "quantitative", "scale": {"domain": [0, 24]}, "axis": {"values": [0, 4, 8, 12, 16, 20, 24], "labelOverlap": false}, "title": "Time (h)"},
               "y": {"field": "v", "type": "quantitative", "scale": {"type": "log", "domain": [0.1, 10000]}, "axis": {"values": [0.1, 1, 10, 100, 1000, 10000], "format": ",", "labelOverlap": false}, "title": "Plasma concentration (ng ml⁻¹)"},
               "color": {"field": "c", "type": "nominal"},
               "detail": {"field": "s"}
             }},
            {"data": {"name": "ri"}, "transform": [{"filter": "datum.d == 'o'"}],
             "mark": {"type": "point", "filled": false, "size": 45, "strokeWidth": 0.8, "opacity": 0.75},
             "encoding": {
               "x": {"field": "t", "type": "quantitative", "axis": {"values": [0, 4, 8, 12, 16, 20, 24], "labelOverlap": false}},
               "y": {"field": "v", "type": "quantitative"},
               "color": {"field": "c", "type": "nominal"},
               "shape": {"field": "s", "type": "nominal"}
             }},
            {"data": {"values": [{}]},
             "mark": {"type": "rule", "strokeWidth": 1, "color": "#f03a3a"},
             "encoding": {
               "y": {"datum": 1},
               "strokeDash": {"datum": "L"}
             }}
          ]
        }
      ]
    }
  ]
}
